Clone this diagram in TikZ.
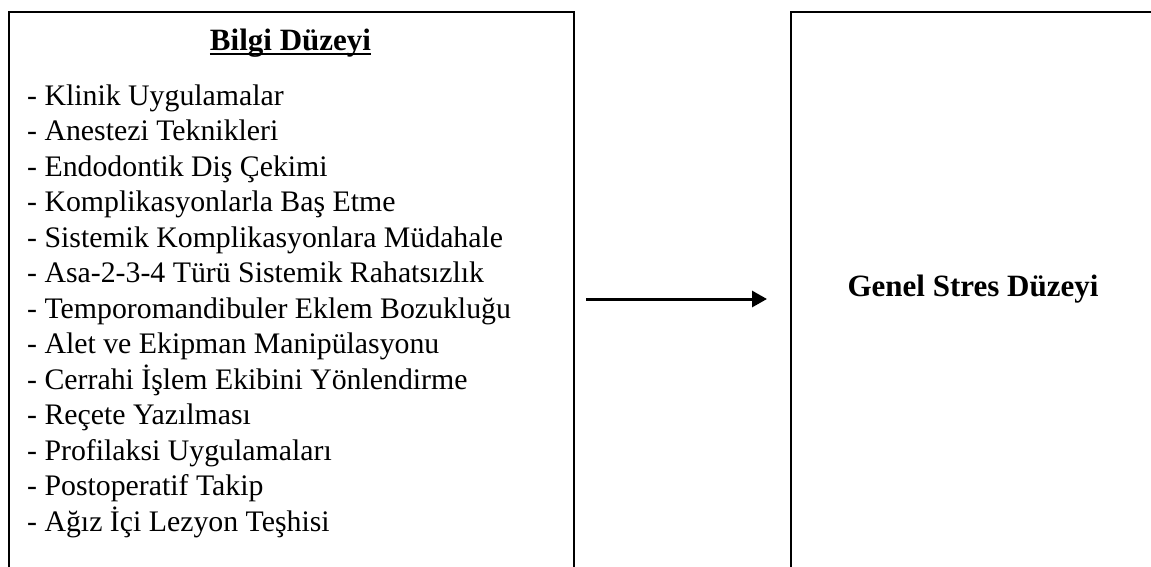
\documentclass[tikz,border=0pt]{standalone}
\usepackage{fontspec}
\setmainfont{Liberation Serif}
\usetikzlibrary{arrows.meta}
\begin{document}
\begin{tikzpicture}[x=1pt,y=-1pt,
  boxline/.style={draw=black,line width=2pt},
  txt/.style={inner sep=0pt,anchor=base west,font=\fontsize{29.8}{35.5}\selectfont},
  bold/.style={inner sep=0pt,anchor=base,font=\fontsize{31}{36}\selectfont\bfseries},
  conn/.style={line width=3pt,-{Triangle[length=15pt,width=16pt]}}]
\clip (0,0) rectangle (1151,566);
\fill[white] (0,0) rectangle (1151,566);
\node[boxline,rectangle,minimum width=565pt,minimum height=600pt,anchor=north west,inner sep=0pt] (leftbox) at (8,10.5) {};
\node[boxline,rectangle,minimum width=366pt,minimum height=600pt,anchor=north west,inner sep=0pt] (rightbox) at (790,10.5) {};
\node[bold] (title) at (290.5,50) {Bilgi Düzeyi};
\draw[line width=2pt] ([yshift=-4pt]title.base west) -- ([yshift=-4pt]title.base east);
\foreach \t [count=\i from 0] in {
  - Klinik Uygulamalar,
  - Anestezi Teknikleri,
  - Endodontik Diş Çekimi,
  - Komplikasyonlarla Baş Etme,
  - Sistemik Komplikasyonlara Müdahale,
  - Asa-2-3-4 Türü Sistemik Rahatsızlık,
  - Temporomandibuler Eklem Bozukluğu,
  - Alet ve Ekipman Manipülasyonu,
  - Cerrahi İşlem Ekibini Yönlendirme,
  - Reçete Yazılması,
  - Profilaksi Uygulamaları,
  - Postoperatif Takip,
  - Ağız İçi Lezyon Teşhisi}
  {\node[txt] (item\i) at (27,105+35.5*\i) {\t};}
\node[bold] (genel) at (973,296.7) {Genel Stres Düzeyi};
\coordinate (arrstart) at (586,299);
\coordinate (arrend) at (767,299);
\draw[conn] (arrstart) -- (arrend);
\end{tikzpicture}
\end{document}
